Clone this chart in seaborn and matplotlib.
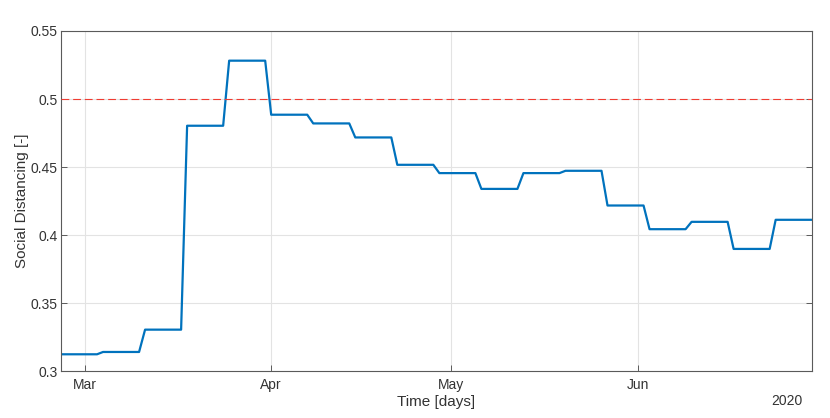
import numpy as np
import pandas as pd
import seaborn as sns
import matplotlib
matplotlib.use("Agg")
import matplotlib.pyplot as plt
import matplotlib.dates as mdates

# weekly social distancing level (held constant within each week)
week_starts = pd.date_range("2020-02-26", periods=18, freq="7D")
week_values = [0.3125, 0.3142, 0.3306, 0.4804, 0.5282, 0.4885,
               0.4821, 0.4718, 0.4517, 0.4456, 0.4340, 0.4456,
               0.4473, 0.4218, 0.4044, 0.4098, 0.3899, 0.4113]
threshold = 0.5
y_ticks = [0.3, 0.35, 0.4, 0.45, 0.5, 0.55]
y_tick_labels = ["0.3", "0.35", "0.4", "0.45", "0.5", "0.55"]

# daily series: each weekly value held for 7 days
days = pd.date_range("2020-02-26", "2020-06-30", freq="D")
df = pd.DataFrame({"date": days, "sd": np.repeat(week_values, 7)[:len(days)]})

sns.set_theme(style="whitegrid", rc={"xtick.bottom": True, "ytick.left": True,
                                     "ytick.right": True})
plt.rcParams["font.family"] = ["Liberation Sans", "DejaVu Sans"]

fig = plt.figure(figsize=(8.3, 4.18), dpi=100)
ax = fig.add_axes([61 / 830, 1 - 371.3 / 418, (811.7 - 61) / 830, (371.3 - 31) / 418])

sns.lineplot(data=df, x="date", y="sd", ax=ax, color="#0072BD", linewidth=1.6)
ax.axhline(threshold, color="#f03c32", linewidth=0.8, linestyle=(0, (7, 3.5)), zorder=3)

ax.set_xlim(pd.Timestamp("2020-02-26"), pd.Timestamp("2020-06-30"))
ax.set_ylim(0.3, 0.55)
ax.set_yticks(y_ticks)
ax.set_yticklabels(y_tick_labels)
ax.xaxis.set_major_locator(mdates.MonthLocator())
ax.xaxis.set_major_formatter(mdates.DateFormatter("%b"))

ax.set_facecolor("white")
ax.grid(True, color="#e3e3e3", linewidth=0.8)
for s in ax.spines.values():
    s.set_color("#5a5a5a")
    s.set_linewidth(0.8)
ax.tick_params(direction="in", length=4, width=0.7, color="#5a5a5a",
               labelsize=10, labelcolor="#333333", top=False, right=True)
ax.tick_params(axis="y", pad=2.5)
ax.tick_params(axis="x", pad=5)

ax.set_xlabel("Time [days]", fontsize=11, color="#333333", labelpad=2)
ax.set_ylabel("Social Distancing [-]", fontsize=11, color="#333333", labelpad=1)
fig.text(787 / 830, 1 - 401 / 418, "2020", fontsize=10, color="#333333",
         ha="center", va="center")

fig.savefig("out.png", dpi=100)
